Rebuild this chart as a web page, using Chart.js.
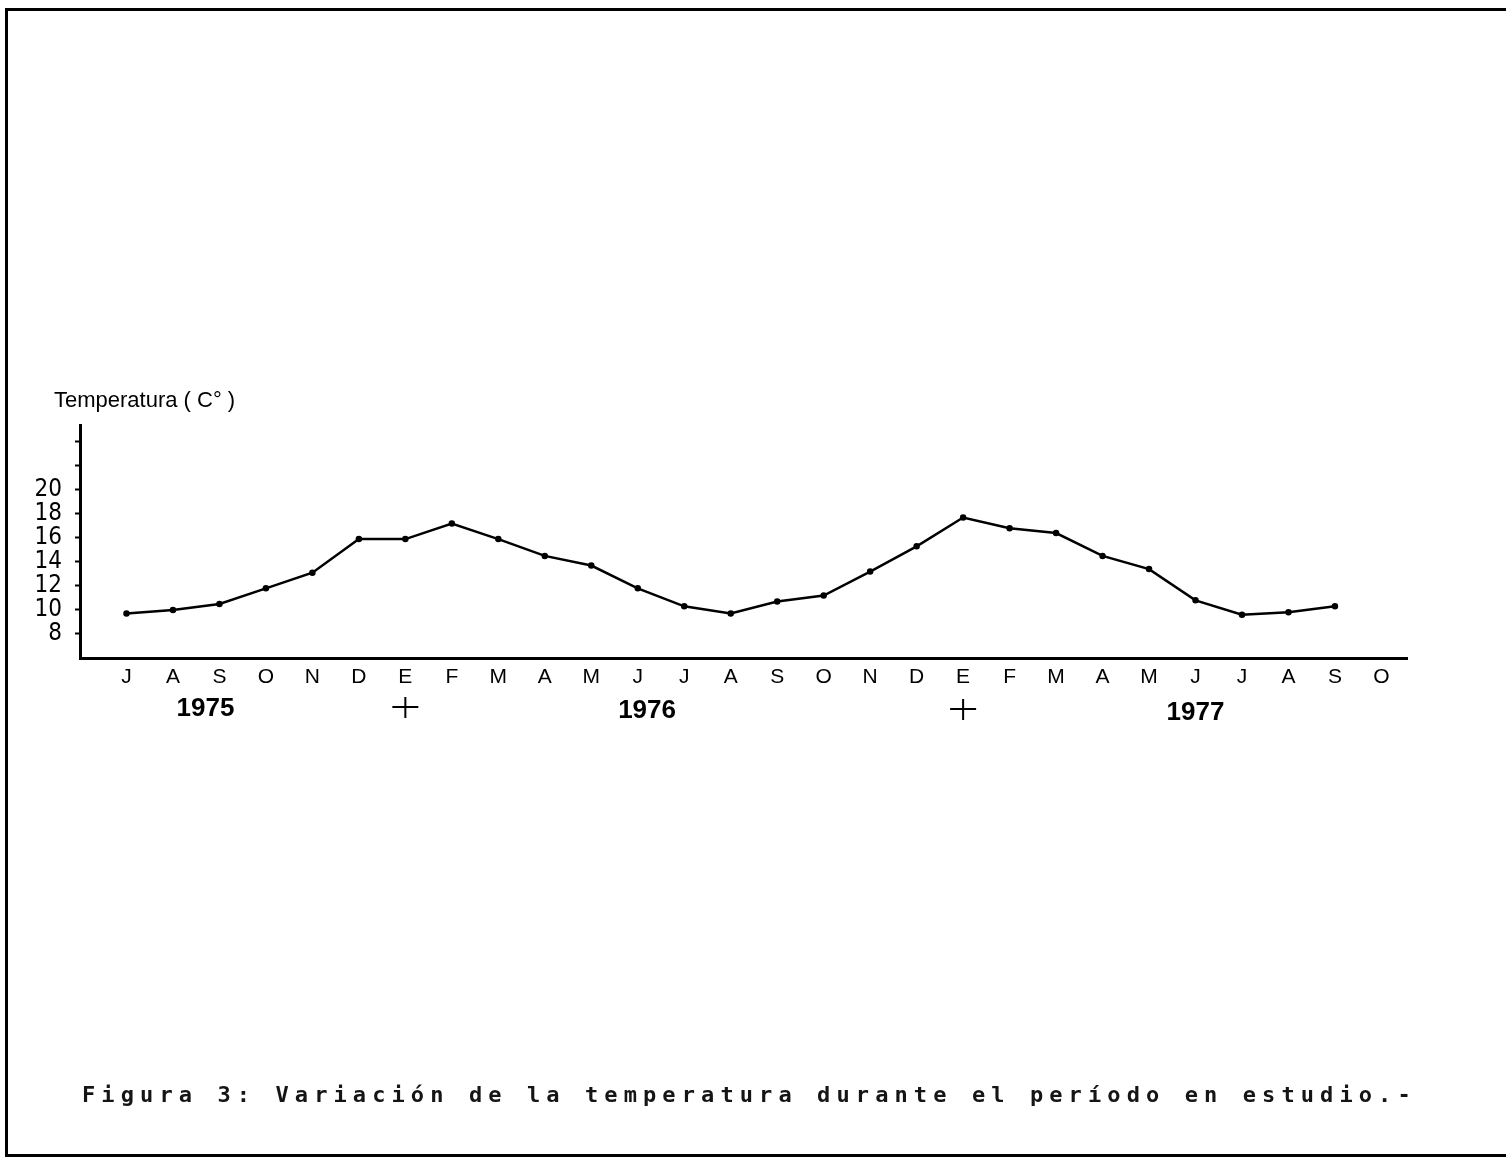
<!DOCTYPE html>
<html>
<head>
<meta charset="utf-8">
<script src="https://cdn.jsdelivr.net/npm/chart.js@4"></script>
<style>
    html, body { margin: 0; padding: 0; background: #fff; }
    #page { position: relative; width: 1506px; height: 1157px; overflow: hidden; }
    #frame {
        position: absolute; left: 5px; top: 8px; width: 1510px; height: 1143px;
        border-left: 3px solid #000; border-top: 3px solid #000; border-bottom: 4px solid #000;
    }
    #caption {
        position: absolute; left: 82px; top: 1082px; white-space: pre;
        font-family: "DejaVu Sans Mono", monospace; font-size: 22px; font-weight: bold;
        letter-spacing: 6.1px; color: #151515;
    }
    canvas { position: absolute; left: 0; top: 0; }
</style>
</head>
<body>
<div id="page">
    <div id="frame"></div>
    <canvas id="tempChart" width="1506" height="1157"></canvas>
    <div id="caption">Figura 3: Variación de la temperatura durante el período en estudio.-</div>
</div>
<script>
// Months Jul 1975 - Oct 1977 (E = enero)
const months = ['J', 'A', 'S', 'O', 'N', 'D', 'E', 'F', 'M', 'A', 'M', 'J', 'J', 'A', 'S', 'O', 'N', 'D', 'E', 'F', 'M', 'A', 'M', 'J', 'J', 'A', 'S', 'O'];
// Monthly temperature (°C), no reading for the last month
const temperature = [9.7, 10.0, 10.5, 11.8, 13.1, 15.9, 15.9, 17.2, 15.9, 14.5, 13.7, 11.8, 10.3, 9.7, 10.7, 11.2, 13.2, 15.3, 17.7, 16.8, 16.4, 14.5, 13.4, 10.8, 9.6, 9.8, 10.3, null];
const yTicks = [8, 10, 12, 14, 16, 18, 20, 22, 24];
const yTickLabels = ['8', '10', '12', '14', '16', '18', '20', '', ''];
const yearLabels = ['1975', '1976', '1977'];
const yearAt = [1.7, 11.2, 23.0];      // month index under which each year is written
const yearMarks = [6, 18];              // "+" under each January

const points = temperature.map((t, i) => ({ x: i, y: t }));

const annotations = {
    id: 'annotations',
    afterDraw(chart) {
        const ctx = chart.ctx;
        const xs = chart.scales.x;
        ctx.save();
        ctx.fillStyle = '#000';
        ctx.font = 'bold 26px "Liberation Sans", Arial, sans-serif';
        ctx.textAlign = 'center';
        ctx.textBaseline = 'middle';
        yearLabels.forEach((label, i) => {
            ctx.fillText(label, xs.getPixelForValue(yearAt[i]), 709 + i * 2);
        });

        ctx.strokeStyle = '#000';
        ctx.lineWidth = 2;
        yearMarks.forEach((m, i) => {
            const px = xs.getPixelForValue(m);
            const py = 707 + i * 2;
            ctx.beginPath();
            ctx.moveTo(px - 13, py); ctx.lineTo(px + 13, py);
            ctx.moveTo(px, py - 10); ctx.lineTo(px, py + 11);
            ctx.stroke();
        });

        ctx.font = '22px "Liberation Sans", Arial, sans-serif';
        ctx.textAlign = 'left';
        ctx.fillText('Temperatura ( C° )', 54, 401);
        ctx.restore();
    }
};

new Chart(document.getElementById('tempChart'), {
    type: 'line',
    data: {
        datasets: [{
            data: points,
            borderColor: '#000',
            backgroundColor: '#000',
            borderWidth: 2.5,
            pointRadius: 2,
            pointHoverRadius: 2,
            tension: 0
        }]
    },
    options: {
        responsive: false,
        animation: false,
        layout: { padding: { left: 0, right: 99, top: 425, bottom: 459 } },
        plugins: { legend: { display: false }, tooltip: { enabled: false } },
        scales: {
            x: {
                type: 'linear',
                min: -1,
                max: 27.55,
                afterBuildTicks: scale => { scale.ticks = months.map((m, i) => ({ value: i })); },
                afterFit: scale => { scale.height = 40; },
                grid: { drawOnChartArea: false, drawTicks: false },
                border: { display: true, color: '#000', width: 3 },
                ticks: {
                    autoSkip: false,
                    maxRotation: 0,
                    padding: 7,
                    color: '#000',
                    font: { family: '"Liberation Sans", Arial, sans-serif', size: 21 },
                    callback: value => months[value]
                }
            },
            y: {
                min: 6,
                max: 25.4,
                afterBuildTicks: scale => { scale.ticks = yTicks.map(v => ({ value: v })); },
                afterFit: scale => { scale.width = 80; },
                grid: { drawOnChartArea: false, drawTicks: true, tickLength: 5, color: '#000', tickWidth: 2 },
                border: { display: true, color: '#000', width: 3 },
                ticks: {
                    autoSkip: false,
                    padding: 13,
                    color: '#000',
                    font: { family: '"DejaVu Sans Condensed", "Liberation Sans Narrow", sans-serif', size: 24 },
                    callback: value => yTickLabels[yTicks.indexOf(value)]
                }
            }
        }
    },
    plugins: [annotations]
});
</script>
</body>
</html>
